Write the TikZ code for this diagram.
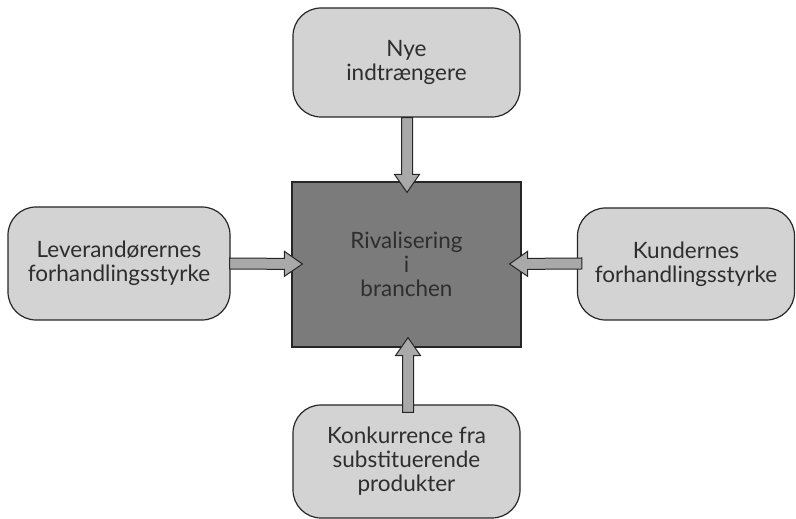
\documentclass[tikz,border=0pt]{standalone}
\usepackage{fontspec}
\setmainfont{Lato}
\usetikzlibrary{calc}
\definecolor{boxgray}{HTML}{D3D3D3}
\definecolor{midgray}{HTML}{7B7B7B}
\definecolor{arrgray}{HTML}{A9A9A9}
\definecolor{txt}{HTML}{2E2E2E}
\newcommand{\blockarrow}[2]{%
  \coordinate (H) at ($(#2)!18pt!(#1)$);
  \draw[blkarrow] ($(#1)!5.5pt!90:(#2)$) -- ($(H)!5.5pt!-90:(#1)$) -- ($(H)!12.5pt!-90:(#1)$) -- (#2) -- ($(H)!12.5pt!90:(#1)$) -- ($(H)!5.5pt!90:(#1)$) -- ($(#1)!5.5pt!-90:(#2)$) -- cycle;}
\begin{document}
\begin{tikzpicture}[x=1pt,y=1pt,
  outerbox/.style={draw=black!85, line width=1.2pt, fill=boxgray, rounded corners=28pt, inner sep=0pt, align=center, text=txt, font=\fontsize{22.5}{24}\selectfont},
  midbox/.style={draw=black!85, line width=1.2pt, fill=midgray, inner sep=0pt},
  blkarrow/.style={draw=black!85, line width=1pt, fill=arrgray, line join=miter}]
\useasboundingbox (0,0) rectangle (796,519);
\node[outerbox, minimum width=227pt, minimum height=109pt] (top) at (406.5,456.5) {Nye\\indtrængere};
\node[outerbox, minimum width=222pt, minimum height=113pt] (left) at (119,255.5) {Leverandørernes\\forhandlingsstyrke};
\node[outerbox, minimum width=217pt, minimum height=112pt] (right) at (686,255) {Kundernes\\forhandlingsstyrke};
\node[outerbox, minimum width=227pt, minimum height=113pt] (bot) at (406.5,57.5) {Konkurrence fra\\substituerende\\produkter};
\node[midbox, minimum width=229pt, minimum height=165pt] (mid) at (406.5,254.5) {};
\node[align=center, text=txt, inner sep=0pt, font=\fontsize{22.5}{24}\selectfont] (midtext) at (mid.center) {Rivalisering\\i\\branchen};
\coordinate (tTop) at ($(mid.north)+(0.5,-11)$);
\coordinate (sTop) at ($(top.south)+(0.5,0)$);
\coordinate (tBot) at ($(mid.south)+(1.5,10)$);
\coordinate (sBot) at ($(bot.north)+(1.5,-8)$);
\coordinate (tLeft) at ($(mid.west)+(11,0.5)$);
\coordinate (sLeft) at ($(left.east)+(-1,0)$);
\coordinate (tRight) at ($(mid.east)+(-12,0.5)$);
\coordinate (sRight) at ($(right.west)+(5,0.5)$);
\blockarrow{sTop}{tTop}
\blockarrow{sBot}{tBot}
\blockarrow{sLeft}{tLeft}
\blockarrow{sRight}{tRight}
\end{tikzpicture}
\end{document}
